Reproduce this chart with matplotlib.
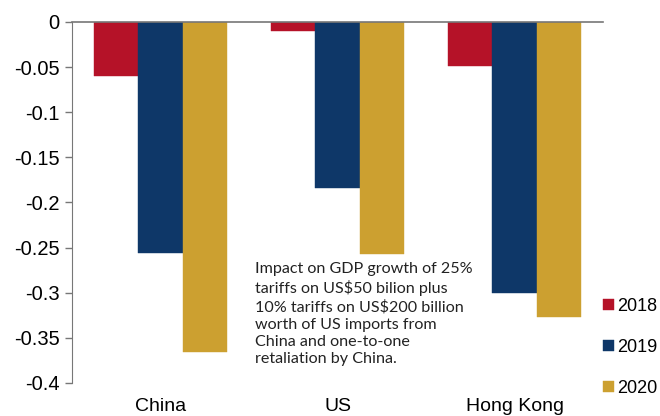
import matplotlib
matplotlib.use("Agg")
import matplotlib.pyplot as plt
import numpy as np

categories = ["China", "US", "Hong Kong"]
years = ["2018", "2019", "2020"]
vals_2018 = [-0.060, -0.010, -0.049]
vals_2019 = [-0.256, -0.184, -0.300]
vals_2020 = [-0.366, -0.257, -0.327]
colors = ["#B51228", "#0E3768", "#CCA030"]
yticks = [0, -0.05, -0.1, -0.15, -0.2, -0.25, -0.3, -0.35, -0.4]
note = ("Impact on GDP growth of 25%\n"
        "tariffs on US$50 bilion plus\n"
        "10% tariffs on US$200 billion\n"
        "worth of US imports from\n"
        "China and one-to-one\n"
        "retaliation by China.")

plt.rcParams['font.family'] = ['Liberation Sans', 'DejaVu Sans']

fig = plt.figure(figsize=(6.6, 4.16), dpi=100)
ax = fig.add_axes([72/660, 1 - 383/416, (603 - 72)/660, (383 - 22)/416])

x = np.arange(len(categories))
w = 0.25
series = [vals_2018, vals_2019, vals_2020]
for i, (yr, vals) in enumerate(zip(years, series)):
    ax.bar(x + (i - 1) * w, vals, width=w, color=colors[i], label=yr,
           edgecolor=colors[i], linewidth=0.3)

ax.set_xlim(-0.5, 2.5)
ax.set_ylim(-0.4, 0)
ax.set_yticks(yticks)
ax.set_yticklabels(["0" if v == 0 else f"{v:g}" for v in yticks], fontsize=14.5)
ax.set_xticks(x)
ax.set_xticklabels(categories, fontsize=14)
ax.tick_params(axis="x", length=0, pad=11)
ax.tick_params(axis="y", length=5, width=1, color="#777777", direction="out", pad=4)

for s in ["right", "bottom"]:
    ax.spines[s].set_visible(False)
ax.spines["left"].set_color("#777777")
ax.spines["top"].set_color("#777777")
ax.spines["top"].set_linewidth(1.2)

fig.text(255/660, 1 - 262/416, note, fontsize=11.6, family=['Lato', 'DejaVu Sans'],
         va="top", ha="left", linespacing=1.31, color="#222222")

leg = fig.legend(loc="upper left", bbox_to_anchor=(603/660, 1 - 298/416),
                 frameon=False, fontsize=13, handlelength=0.6, handleheight=0.6,
                 handletextpad=0.2, labelspacing=1.33, borderpad=0, borderaxespad=0)

fig.savefig("out.png", dpi=100)
